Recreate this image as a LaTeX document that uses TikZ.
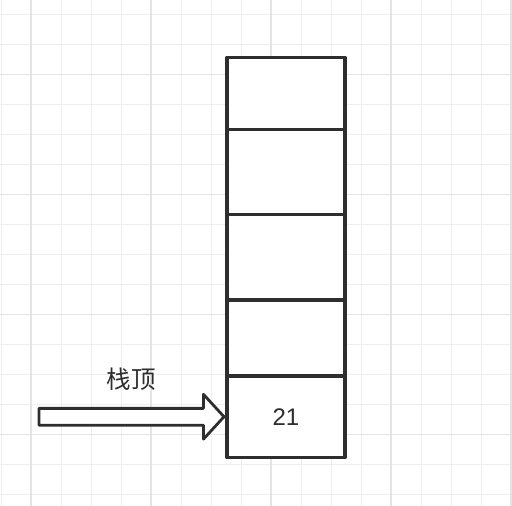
\documentclass[tikz,border=0pt]{standalone}
\usepackage{fontspec}
\setmainfont{Liberation Sans}
\newfontfamily\cjk{Noto Sans CJK SC}
\usepackage{tikz}
\usetikzlibrary{positioning}
\usetikzlibrary{shapes.arrows}
\definecolor{gridminor}{HTML}{EEEEEE}
\definecolor{gridmajor}{HTML}{E4E4E4}
\definecolor{ink}{HTML}{2E2E2E}

\begin{document}
\begin{tikzpicture}[line cap=round,line join=round,x=1pt,y=-1pt,
  cell/.style={draw=ink,line width=3.2pt,fill=white,minimum width=118pt,outer sep=0pt,inner sep=0pt,text=ink,font=\fontsize{24}{28}\selectfont},
  pointer/.style={single arrow,draw=ink,line width=2.8pt,fill=white,minimum height=185pt,minimum width=42pt,single arrow head extend=14pt,single arrow tip angle=95,inner xsep=0pt,inner ysep=7pt,outer sep=0pt}]
\useasboundingbox (0,0) rectangle (512,506);
\fill[white] (0,0) rectangle (512,506);
\foreach \i in {0,...,17} \draw[gridminor,line width=1pt] (1+30*\i,0) -- (1+30*\i,506);
\foreach \j in {0,...,16} \draw[gridminor,line width=1pt] (0,14.5+30*\j) -- (512,14.5+30*\j);
\foreach \i in {0,...,4} \draw[gridmajor,line width=1.3pt] (31+120*\i,0) -- (31+120*\i,506);
\foreach \j in {0,...,3} \draw[gridmajor,line width=1.3pt] (0,74.5+120*\j) -- (512,74.5+120*\j);
\node[cell,minimum height=72pt,anchor=north] (s1) at (286,57.5) {};
\node[cell,minimum height=85pt,below=0pt of s1] (s2) {};
\node[cell,minimum height=85.5pt,below=0pt of s2] (s3) {};
\node[cell,minimum height=76pt,below=0pt of s3] (s4) {};
\node[cell,minimum height=81.5pt,below=0pt of s4] (s5) {21};
\node[pointer,anchor=tip] (ptr) at ([xshift=-3pt]s5.west) {};
\node[text=ink,font=\cjk\fontsize{24.5}{28}\selectfont] (ptrlabel) at (131,379.5) {栈顶};
\end{tikzpicture}
\end{document}
